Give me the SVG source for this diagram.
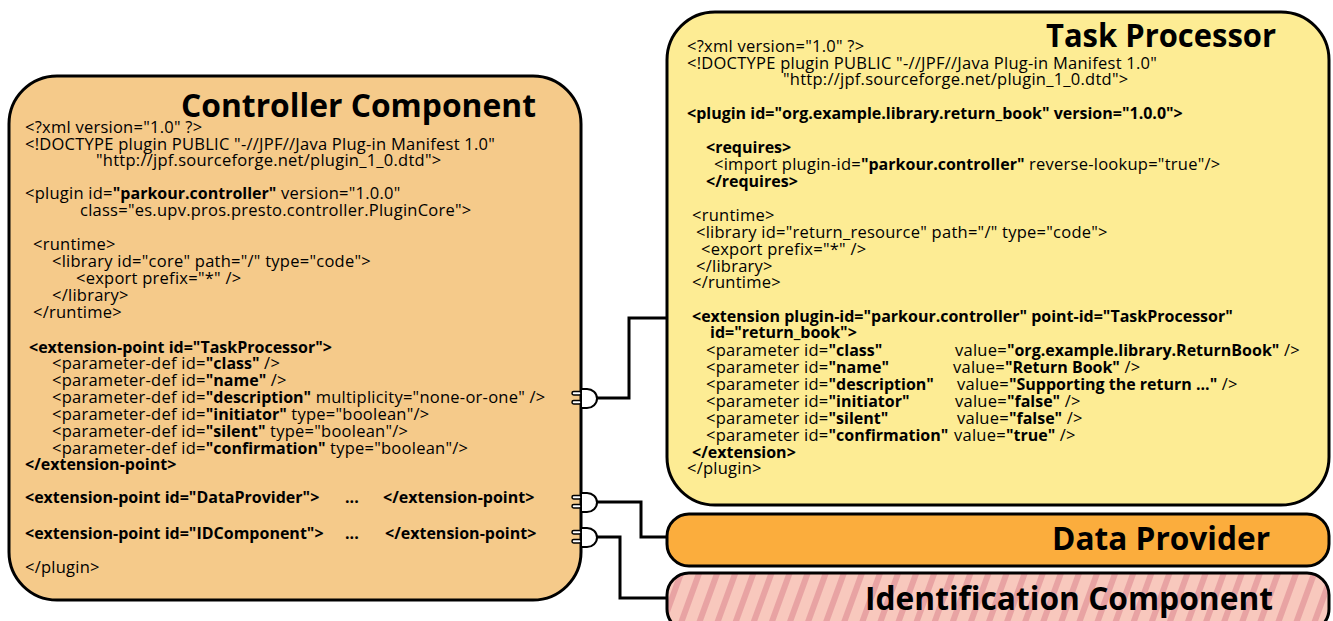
<svg xmlns="http://www.w3.org/2000/svg" width="1333" height="621" viewBox="0 0 1333 621">
<defs>
<style>
.code{font-family:"Open Sans","Liberation Sans",sans-serif;font-size:16.5px;letter-spacing:0.25px;fill:#000}
.b{font-weight:bold;font-size:16px;letter-spacing:0}
.title{font-family:"Open Sans","Liberation Sans",sans-serif;font-weight:bold;font-size:32px;fill:#000}
.box{stroke:#000;stroke-width:3}
.wire{fill:none;stroke:#000;stroke-width:3}
.sock{fill:#fff;stroke:#000;stroke-width:2}
.pin{fill:#fff;stroke:#000;stroke-width:1.5}
</style>
<pattern id="stripes" patternUnits="userSpaceOnUse" width="17" height="17" patternTransform="rotate(20)">
<rect width="17" height="17" fill="#f8c8bd"/>
<rect width="6" height="17" fill="#e8a3a3"/>
</pattern>
</defs>

<g id="controller">
<rect class="box" x="9" y="76" width="572" height="524" rx="48" ry="48" fill="#f5ca8a"/>
<text class="title" x="536" y="117" text-anchor="end" textLength="355" lengthAdjust="spacingAndGlyphs">Controller Component</text>
<g class="code">
<text x="25" y="133">&lt;?xml version="1.0" ?&gt;</text>
<text x="25" y="150">&lt;!DOCTYPE plugin PUBLIC "-//JPF//Java Plug-in Manifest 1.0"</text>
<text x="96" y="166">"http://jpf.sourceforge.net/plugin_1_0.dtd"&gt;</text>
<text x="25" y="199">&lt;plugin id=<tspan class="b">"parkour.controller"</tspan> version="1.0.0"</text>
<text x="80" y="216">class="es.upv.pros.presto.controller.PluginCore"&gt;</text>
<text x="33" y="250">&lt;runtime&gt;</text>
<text x="52" y="267">&lt;library id="core" path="/" type="code"&gt;</text>
<text x="76" y="284">&lt;export prefix="*" /&gt;</text>
<text x="52" y="301">&lt;/library&gt;</text>
<text x="33" y="318">&lt;/runtime&gt;</text>
<text x="29" y="353" class="b">&lt;extension-point id="TaskProcessor"&gt;</text>
<text x="52" y="369">&lt;parameter-def id=<tspan class="b">"class"</tspan> /&gt;</text>
<text x="52" y="386">&lt;parameter-def id=<tspan class="b">"name"</tspan> /&gt;</text>
<text x="52" y="403">&lt;parameter-def id=<tspan class="b">"description"</tspan> multiplicity="none-or-one" /&gt;</text>
<text x="52" y="420">&lt;parameter-def id=<tspan class="b">"initiator"</tspan> type="boolean"/&gt;</text>
<text x="52" y="437">&lt;parameter-def id=<tspan class="b">"silent"</tspan> type="boolean"/&gt;</text>
<text x="52" y="454">&lt;parameter-def id=<tspan class="b">"confirmation"</tspan> type="boolean"/&gt;</text>
<text x="25" y="470" class="b">&lt;/extension-point&gt;</text>
<text x="25" y="503" class="b">&lt;extension-point id="DataProvider"&gt;</text>
<text x="345" y="503" class="b">...</text>
<text x="383" y="503" class="b">&lt;/extension-point&gt;</text>
<text x="25" y="539" class="b">&lt;extension-point id="IDComponent"&gt;</text>
<text x="345" y="539" class="b">...</text>
<text x="385" y="539" class="b">&lt;/extension-point&gt;</text>
<text x="25" y="573">&lt;/plugin&gt;</text>
</g>
</g>

<g id="task-processor">
<rect class="box" x="667" y="12" width="662" height="493" rx="48" ry="48" fill="#fdec94"/>
<text class="title" x="1276" y="47" text-anchor="end" textLength="230" lengthAdjust="spacingAndGlyphs">Task Processor</text>
<g class="code">
<text x="687" y="52">&lt;?xml version="1.0" ?&gt;</text>
<text x="687" y="69">&lt;!DOCTYPE plugin PUBLIC "-//JPF//Java Plug-in Manifest 1.0"</text>
<text x="783" y="85">"http://jpf.sourceforge.net/plugin_1_0.dtd"&gt;</text>
<text x="687" y="119" class="b">&lt;plugin id="org.example.library.return_book" version="1.0.0"&gt;</text>
<text x="706" y="153" class="b">&lt;requires&gt;</text>
<text x="714" y="170">&lt;import plugin-id=<tspan class="b">"parkour.controller"</tspan> reverse-lookup="true"/&gt;</text>
<text x="706" y="187" class="b">&lt;/requires&gt;</text>
<text x="692" y="221">&lt;runtime&gt;</text>
<text x="696" y="238">&lt;library id="return_resource" path="/" type="code"&gt;</text>
<text x="701" y="255">&lt;export prefix="*" /&gt;</text>
<text x="696" y="272">&lt;/library&gt;</text>
<text x="692" y="288">&lt;/runtime&gt;</text>
<text x="692" y="322" class="b">&lt;extension plugin-id="parkour.controller" point-id="TaskProcessor"</text>
<text x="710" y="338" class="b">id="return_book"&gt;</text>
<text x="706" y="356">&lt;parameter id=<tspan class="b">"class"</tspan></text>
<text x="955" y="356">value=<tspan class="b">"org.example.library.ReturnBook"</tspan> /&gt;</text>
<text x="706" y="373">&lt;parameter id=<tspan class="b">"name"</tspan></text>
<text x="953" y="373">value=<tspan class="b">"Return Book"</tspan> /&gt;</text>
<text x="706" y="390">&lt;parameter id=<tspan class="b">"description"</tspan></text>
<text x="957" y="390">value=<tspan class="b">"Supporting the return ..."</tspan> /&gt;</text>
<text x="706" y="407">&lt;parameter id=<tspan class="b">"initiator"</tspan></text>
<text x="955" y="407">value=<tspan class="b">"false"</tspan> /&gt;</text>
<text x="706" y="424">&lt;parameter id=<tspan class="b">"silent"</tspan></text>
<text x="957" y="424">value=<tspan class="b">"false"</tspan> /&gt;</text>
<text x="706" y="441">&lt;parameter id=<tspan class="b">"confirmation"</tspan></text>
<text x="954" y="441">value=<tspan class="b">"true"</tspan> /&gt;</text>
<text x="692" y="458" class="b">&lt;/extension&gt;</text>
<text x="687" y="474">&lt;/plugin&gt;</text>
</g>
</g>

<g id="data-provider">
<rect class="box" x="667" y="514" width="662" height="52" rx="22" ry="22" fill="#fbad3d"/>
<text class="title" x="1270" y="550" text-anchor="end" textLength="218" lengthAdjust="spacingAndGlyphs">Data Provider</text>
</g>

<g id="identification-component">
<rect class="box" x="667" y="573" width="662" height="58" rx="22" ry="22" fill="url(#stripes)"/>
<text class="title" x="1273" y="610" text-anchor="end" textLength="408" lengthAdjust="spacingAndGlyphs">Identification Component</text>
</g>

<g id="connectors">
<polyline class="wire" points="597,398 629,398 629,318 667,318"/>
<polyline class="wire" points="597,502 641,502 641,537 667,537"/>
<polyline class="wire" points="597,537 620,537 620,598 667,598"/>
<path class="sock" d="M581,389 h6 a10,9.5 0 0 1 0,19 h-6 z"/>
<rect class="pin" x="572" y="391.5" width="9" height="3.5" rx="1.7"/>
<rect class="pin" x="572" y="400.5" width="9" height="3.5" rx="1.7"/>
<path class="sock" d="M581,493 h6 a10,9.5 0 0 1 0,19 h-6 z"/>
<rect class="pin" x="572" y="495.5" width="9" height="3.5" rx="1.7"/>
<rect class="pin" x="572" y="504.5" width="9" height="3.5" rx="1.7"/>
<path class="sock" d="M581,528 h6 a10,9.5 0 0 1 0,19 h-6 z"/>
<rect class="pin" x="572" y="530.5" width="9" height="3.5" rx="1.7"/>
<rect class="pin" x="572" y="539.5" width="9" height="3.5" rx="1.7"/>
</g>
</svg>
